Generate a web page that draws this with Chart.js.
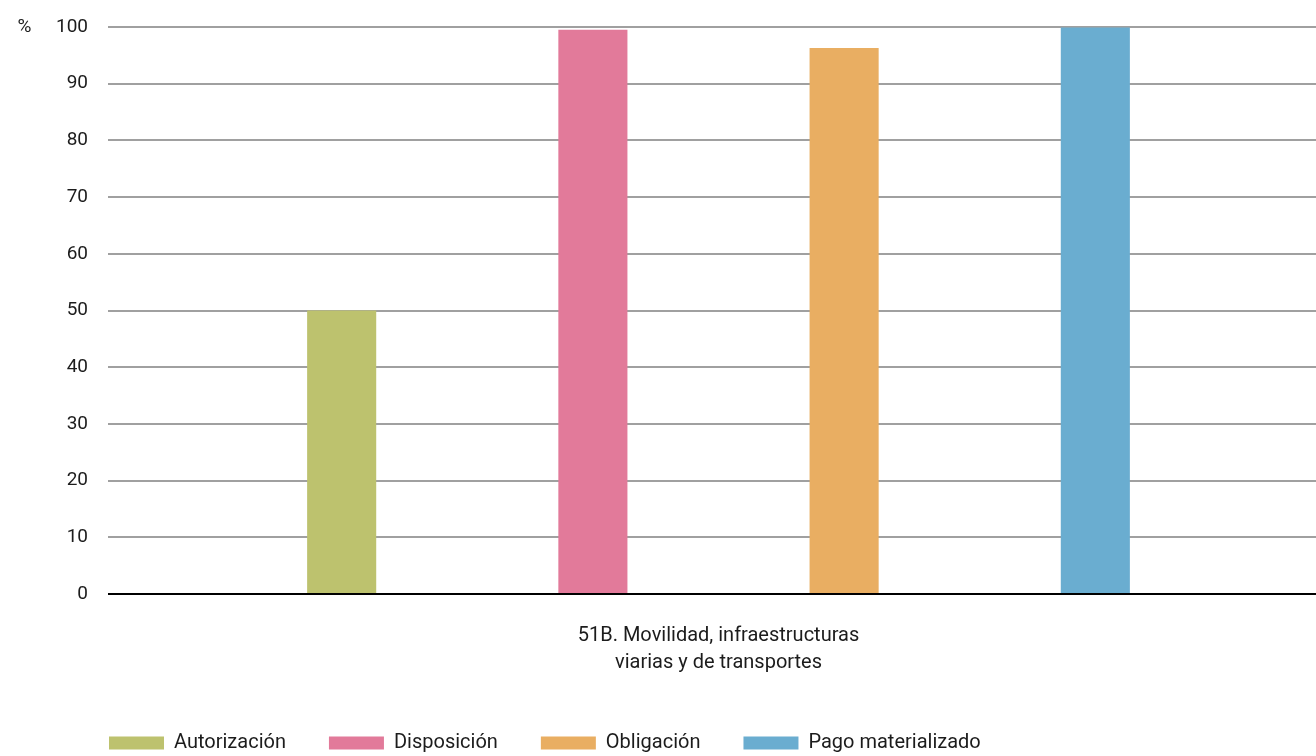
<!DOCTYPE html>
<html lang="es">
<head>
<meta charset="utf-8">
<title>51B. Movilidad, infraestructuras viarias y de transportes</title>
<script src="https://cdn.jsdelivr.net/npm/chart.js@4.4.1/dist/chart.umd.min.js"></script>
<style>
    html, body { margin: 0; padding: 0; background: #fff; overflow: hidden; }
    #wrap { position: relative; width: 1329px; height: 756px; }
</style>
</head>
<body>
<div id="wrap"><canvas id="mainChart"></canvas></div>
<script>
// Data
const categories = [['51B. Movilidad, infraestructuras', 'viarias y de transportes']];
const seriesNames = ['Autorización', 'Disposición', 'Obligación', 'Pago materializado'];
const autorizacion = [50];
const disposicion = [99.5];
const obligacion = [96.3];
const pagoMaterializado = [99.9];
const yMin = 0;
const yMax = 100;
const yStep = 10;
const unitLabel = '%';

const colors = ['#bdc26e', '#e27a9a', '#e9ae62', '#6aadd0'];
const textColor = '#1c1c1c';
const fontFamily = 'Roboto, "Noto Sans", sans-serif';

// draws the "%" next to the top tick and moves the legend under the plot
const extras = {
    id: 'extras',
    beforeDraw(chart) {
        const legend = chart.legend;
        if (!legend._shifted) {
            legend.top += 16;
            legend.bottom += 16;
            legend._shifted = true;
        }
        legend.left = chart.chartArea.left - legend.options.labels.padding + 1;
    },
    afterDraw(chart) {
        const ctx = chart.ctx;
        const y = chart.scales.y.getPixelForValue(yMax);
        ctx.save();
        ctx.font = '19px ' + fontFamily;
        ctx.fillStyle = textColor;
        ctx.textAlign = 'center';
        ctx.textBaseline = 'middle';
        ctx.fillText(unitLabel, 24.5, y);
        ctx.restore();
    }
};

const seriesValues = [autorizacion, disposicion, obligacion, pagoMaterializado];

const ctx = document.getElementById('mainChart');
new Chart(ctx, {
    type: 'bar',
    data: {
        labels: categories,
        datasets: seriesNames.map((name, i) => ({
            label: name,
            data: seriesValues[i],
            backgroundColor: colors[i],
            borderWidth: 0,
            categoryPercentage: 0.823,
            barPercentage: 0.275
        }))
    },
    options: {
        responsive: true,
        maintainAspectRatio: false,
        animation: false,
        layout: { padding: { top: 27, right: 0, bottom: 9, left: 0 } },
        plugins: {
            legend: {
                position: 'bottom',
                align: 'start',
                labels: {
                    boxWidth: 55,
                    boxHeight: 13,
                    padding: 43,
                    color: textColor,
                    font: { family: fontFamily, size: 20 }
                }
            },
            tooltip: { enabled: false }
        },
        scales: {
            x: {
                grid: { display: false, drawTicks: false },
                border: { display: false },
                ticks: {
                    padding: 28,
                    color: textColor,
                    font: { family: fontFamily, size: 20, lineHeight: 1.35 }
                },
                afterFit: scale => { scale.height = 80; }
            },
            y: {
                min: yMin,
                max: yMax,
                border: { display: false },
                grid: {
                    drawTicks: false,
                    lineWidth: 2,
                    color: c => c.tick && c.tick.value === 0 ? '#000000' : '#a0a0a0'
                },
                ticks: {
                    stepSize: yStep,
                    padding: 20,
                    color: textColor,
                    font: { family: fontFamily, size: 19 }
                },
                afterFit: scale => {
                    scale.width = 108;
                    scale.paddingTop = 0;
                }
            }
        }
    },
    plugins: [extras]
});
</script>
</body>
</html>
